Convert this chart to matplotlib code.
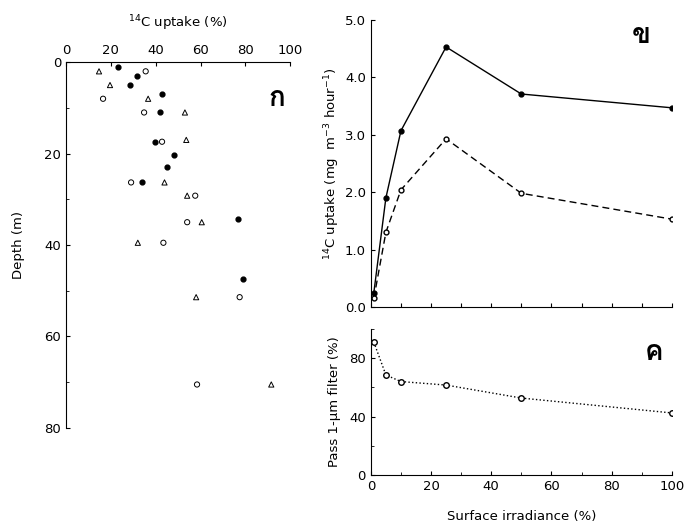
import numpy as np
import matplotlib
matplotlib.use("Agg")
import matplotlib.pyplot as plt
from matplotlib import font_manager
from matplotlib.ft2font import FT2Font
from matplotlib.ticker import MultipleLocator

# look for an installed family that has Thai letters
thai_family = None
for f in font_manager.fontManager.ttflist:
    try:
        if 0x0E01 in FT2Font(f.fname).get_charmap():
            thai_family = f.name
            break
    except Exception:
        pass
if thai_family is None:
    thai_family = 'DejaVu Sans'

plt.rcParams['font.family'] = ['DejaVu Sans', thai_family]

# panel ก : 14C uptake (%) vs depth
filled_x = [23, 31.5, 28.6, 43, 42, 39.7, 48, 45, 34, 76.7, 79]
filled_d = [1, 3, 5, 7, 11, 17.4, 20.2, 23, 26.3, 34.3, 47.5]
open_x = [35.5, 16.5, 34.8, 42.8, 29, 57.6, 54, 43.4, 77.4, 58.4]
open_d = [2, 8, 11, 17.4, 26.3, 29.2, 35, 39.5, 51.4, 70.5]
tri_x = [14.7, 19.6, 36.6, 53, 53.6, 43.9, 54, 60.5, 32, 58, 91.5]
tri_d = [2, 5, 8, 11, 17, 26.3, 29.2, 35, 39.5, 51.4, 70.5]

# panel ข : 14C uptake (mg m-3 hour-1) vs surface irradiance
irr = [1, 5, 10, 25, 50, 100]
uptake_total = [0.25, 1.9, 3.07, 4.53, 3.71, 3.47]
uptake_small = [0.15, 1.3, 2.04, 2.93, 1.98, 1.53]

# panel ค : pass 1-um filter (%)
pass_pct = [91, 68.5, 64, 61.6, 52.7, 42.5]

thai_kw = dict(fontsize=20, fontweight='bold', ha='center', va='center',
               family=[thai_family, 'DejaVu Sans'])

fig = plt.figure(figsize=(6.88, 5.27), dpi=100)

# --- left panel
ax1 = fig.add_axes([0.096, 0.188, 0.326, 0.694])
ax1.scatter(filled_x, filled_d, s=12, c='k', marker='o')
ax1.scatter(open_x, open_d, s=14, facecolors='none', edgecolors='k', marker='o', linewidths=0.7)
ax1.scatter(tri_x, tri_d, s=14, facecolors='none', edgecolors='k', marker='^', linewidths=0.7)
ax1.set_xlim(0, 100)
ax1.set_ylim(80, 0)
ax1.xaxis.tick_top()
ax1.xaxis.set_label_position('top')
ax1.set_xticks([0, 20, 40, 60, 80, 100])
ax1.set_yticks([0, 20, 40, 60, 80])
ax1.yaxis.set_minor_locator(MultipleLocator(10))
ax1.set_xlabel(r'$^{14}$C uptake (%)', fontsize=9.5, labelpad=12)
ax1.set_ylabel('Depth (m)', fontsize=9.5, labelpad=14)
for s in ['right', 'bottom']:
    ax1.spines[s].set_visible(False)
ax1.tick_params(labelsize=9.5, direction='in', length=3)
ax1.tick_params(which='minor', direction='in', length=2)
ax1.text(0.94, 0.9, 'ก', transform=ax1.transAxes, **thai_kw)

# --- right top panel
ax2 = fig.add_axes([0.539, 0.4175, 0.4375, 0.5446])
ax2.plot(irr, uptake_total, 'k-', lw=1, marker='o', ms=3.5)
ax2.plot(irr, uptake_small, 'k--', lw=1, marker='o', ms=3.5, mfc='white', dashes=(5, 3))
ax2.set_xlim(0, 100)
ax2.set_ylim(0, 5)
ax2.set_yticks([0, 1, 2, 3, 4, 5])
ax2.set_yticklabels(['0.0', '1.0', '2.0', '3.0', '4.0', '5.0'])
ax2.xaxis.set_major_locator(MultipleLocator(10))
ax2.set_xticklabels([])
ax2.set_ylabel(r'$^{14}$C uptake (mg  m$^{-3}$ hour$^{-1}$)', fontsize=9.5, labelpad=2)
for s in ['right', 'top']:
    ax2.spines[s].set_visible(False)
ax2.tick_params(labelsize=9.5, direction='in', length=3)
ax2.text(0.9, 0.945, 'ข', transform=ax2.transAxes, **thai_kw)

# --- right bottom panel
ax3 = fig.add_axes([0.539, 0.0987, 0.4375, 0.277])
ax3.plot(irr, pass_pct, 'k:', lw=1, marker='o', ms=4, mfc='white')
ax3.set_xlim(0, 100)
ax3.set_ylim(0, 100)
ax3.set_xticks([0, 20, 40, 60, 80, 100])
ax3.xaxis.set_minor_locator(MultipleLocator(10))
ax3.set_yticks([0, 40, 80])
ax3.yaxis.set_minor_locator(MultipleLocator(20))
ax3.set_xlabel('Surface irradiance (%)', fontsize=9.5, labelpad=12)
ax3.set_ylabel('Pass 1-µm filter (%)', fontsize=9.5, labelpad=6)
for s in ['right', 'top']:
    ax3.spines[s].set_visible(False)
ax3.tick_params(labelsize=9.5, direction='in', length=3)
ax3.tick_params(which='minor', direction='in', length=2)
ax3.text(0.94, 0.84, 'ค', transform=ax3.transAxes, **thai_kw)

fig.savefig('out.png', dpi=100)
